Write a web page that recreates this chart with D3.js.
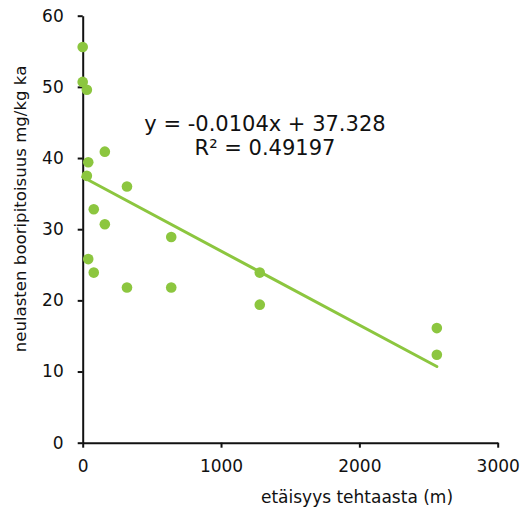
<!DOCTYPE html>
<html lang="fi">
<head>
<meta charset="UTF-8">
<title>Booripitoisuus</title>
<script src="https://d3js.org/d3.v7.min.js"></script>
<style>
  body { margin: 0; background: #fff; }
  text { font-family: "DejaVu Sans", sans-serif; fill: #111; }
</style>
</head>
<body>
<div id="chart"></div>
<script>
	// measured values
	const distances = [0, 0, 30, 40, 30, 80, 160, 160, 40, 80, 320, 320, 640, 640, 1280, 1280, 2560, 2560];
	const boron = [55.6, 50.7, 49.6, 39.4, 37.5, 32.8, 40.9, 30.7, 25.8, 23.9, 36.0, 21.8, 28.9, 21.8, 23.9, 19.4, 16.1, 12.35];
	const xTicks = [0, 1000, 2000, 3000];
	const yTicks = [0, 10, 20, 30, 40, 50, 60];
	const slope = -0.0104, intercept = 37.328;
	const eqText = ["y = -0.0104x + 37.328", "R² = 0.49197"];

	const W = 525, H = 512;
	const margin = {top: 15.7, right: 27.3, bottom: 69.3, left: 82.7};
	const width = W - margin.left - margin.right,
		height = H - margin.top - margin.bottom;
	const green = "#8cc63f";

	const svg = d3.select("#chart")
		.append("svg")
			.attr("width", W)
			.attr("height", H)
		.append("g")
			.attr("transform", `translate(${margin.left}, ${margin.top})`);

	const x = d3.scaleLinear().domain([0, 3000]).range([0, width]);
	const y = d3.scaleLinear().domain([0, 60]).range([height, 0]);

	// axes
	const xAxis = svg.append("g")
		.attr("transform", `translate(0, ${height})`)
		.call(d3.axisBottom(x).tickValues(xTicks).tickFormat(d3.format("d"))
			.tickSize(5).tickPadding(12).tickSizeOuter(0));
	const yAxis = svg.append("g")
		.call(d3.axisLeft(y).tickValues(yTicks).tickFormat(d3.format("d"))
			.tickSize(5).tickPadding(14).tickSizeOuter(0));

	[xAxis, yAxis].forEach(a => {
		a.select(".domain").attr("stroke", "#111").attr("stroke-width", 2);
		a.selectAll(".tick line").attr("stroke", "#111").attr("stroke-width", 2);
		a.selectAll(".tick text")
			.style("font-family", "DejaVu Sans, sans-serif")
			.style("font-size", "17px")
			.attr("fill", "#111");
	});

	// trend line
	svg.append("line")
		.attr("x1", x(0))
		.attr("y1", y(intercept))
		.attr("x2", x(d3.max(distances)))
		.attr("y2", y(intercept + slope * d3.max(distances)))
		.attr("stroke", green)
		.attr("stroke-width", 3)
		.attr("stroke-linecap", "round");

	// points
	svg.selectAll("circle")
		.data(distances)
		.join("circle")
		.attr("cx", d => x(d))
		.attr("cy", (d, i) => y(boron[i]))
		.attr("r", 5.3)
		.attr("fill", green);

	// equation
	svg.selectAll("text.eq")
		.data(eqText)
		.join("text")
		.attr("class", "eq")
		.attr("x", 265 - margin.left)
		.attr("y", (d, i) => 131.5 - margin.top + i * 24)
		.style("text-anchor", "middle")
		.style("font-size", "21px")
		.text(d => d);

	// axis titles
	svg.append("text")
		.attr("x", 357 - margin.left)
		.attr("y", 503 - margin.top)
		.style("text-anchor", "middle")
		.style("font-size", "17px")
		.text("etäisyys tehtaasta (m)");

	svg.append("text")
		.attr("transform", `translate(${26 - margin.left}, ${209 - margin.top}) rotate(-90)`)
		.style("text-anchor", "middle")
		.style("font-size", "16.6px")
		.text("neulasten booripitoisuus mg/kg ka");
</script>
</body>
</html>
